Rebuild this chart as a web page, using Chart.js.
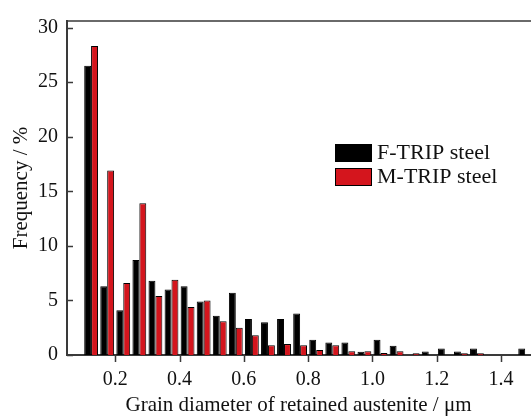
<!DOCTYPE html>
<html>
<head>
<meta charset="utf-8">
<script src="https://cdn.jsdelivr.net/npm/chart.js@4/dist/chart.umd.min.js"></script>
<style>
  html, body { margin: 0; padding: 0; background: #fff; }
  #wrap { width: 531px; height: 418px; position: relative; }
</style>
</head>
<body>
<div id="wrap"><canvas id="myChart"></canvas></div>
<script>
// bin centres (µm), bins are 0.05 wide
let diametres = [0.125, 0.175, 0.225, 0.275, 0.325, 0.375, 0.425, 0.475, 0.525, 0.575,
  0.625, 0.675, 0.725, 0.775, 0.825, 0.875, 0.925, 0.975, 1.025, 1.075,
  1.125, 1.175, 1.225, 1.275, 1.325, 1.375, 1.425, 1.475];
let fTrip = [26.5, 6.3, 4.1, 8.7, 6.8, 6.0, 6.3, 4.9, 3.6, 5.7,
  3.3, 3.0, 3.3, 3.8, 1.4, 1.15, 1.15, 0.3, 1.4, 0.85,
  0, 0.33, 0.6, 0.33, 0.6, 0, 0, 0.6];
let mTrip = [28.3, 16.9, 6.6, 13.9, 5.4, 6.9, 4.4, 5.0, 3.1, 2.5,
  1.8, 0.9, 1.0, 0.9, 0.45, 0.9, 0.35, 0.35, 0.18, 0.35,
  0.15, 0, 0, 0.15, 0.15, 0, 0, 0];
let xTicks = [0.2, 0.4, 0.6, 0.8, 1.0, 1.2, 1.4];
let yTicks = [0, 5, 10, 15, 20, 25, 30];
let noms = ['F-TRIP steel', 'M-TRIP steel'];
let couleurs = ['#000000', '#d4151d'];

const serif = 'Liberation Serif';
const axe = '#3a3a3a';

const points = serie => serie.map((v, i) => ({x: diametres[i], y: v}));

// tick marks (y inward, x outward), top frame line and the legend
const decor = {
  id: 'decor',
  afterDraw(chart) {
    const {ctx, chartArea: a, scales: {x, y}} = chart;
    ctx.save();
    ctx.strokeStyle = axe;
    ctx.lineWidth = 1.5;
    ctx.beginPath();
    ctx.moveTo(a.left, a.top);
    ctx.lineTo(a.right + 2, a.top);
    y.ticks.forEach(t => {
      const py = Math.round(y.getPixelForValue(t.value)) + 0.5;
      ctx.moveTo(a.left, py);
      ctx.lineTo(a.left + 6, py);
    });
    x.ticks.forEach(t => {
      const px = Math.round(x.getPixelForValue(t.value)) + 0.5;
      ctx.moveTo(px, a.bottom);
      ctx.lineTo(px, a.bottom + 7);
    });
    ctx.stroke();

    ctx.font = '22px "' + serif + '"';
    ctx.textBaseline = 'middle';
    ctx.textAlign = 'left';
    chart.data.datasets.forEach((ds, i) => {
      const top = 144 + i * 24;
      ctx.fillStyle = ds.backgroundColor;
      ctx.fillRect(335, top, 37, 18);
      ctx.lineWidth = 1;
      ctx.strokeStyle = '#000';
      ctx.strokeRect(335.5, top + 0.5, 36, 17);
      ctx.fillStyle = '#111';
      ctx.fillText(ds.label, 377, top + 9);
    });
    ctx.restore();
  }
};

const ctx = document.getElementById('myChart');
new Chart(ctx, {
  type: 'bar',
  data: {
    datasets: noms.map((nom, i) => ({
      label: nom,
      data: points(i === 0 ? fTrip : mTrip),
      backgroundColor: couleurs[i],
      borderColor: '#000',
      borderWidth: 1,
      categoryPercentage: 0.86,
      barPercentage: 1.0
    }))
  },
  options: {
    responsive: true,
    maintainAspectRatio: false,
    animation: false,
    layout: {padding: {top: 10, right: 1, left: 0, bottom: 0}},
    plugins: {legend: {display: false}, tooltip: {enabled: false}},
    scales: {
      x: {
        type: 'linear',
        offset: false,
        min: 0.05,
        max: 1.49,
        afterBuildTicks: s => { s.ticks = xTicks.map(v => ({value: v})); },
        afterFit: s => { s.height = 63; },
        grid: {display: false, drawTicks: false},
        border: {display: true, color: axe, width: 2},
        ticks: {
          padding: 13,
          color: '#111',
          font: {family: serif, size: 20},
          maxRotation: 0,
          callback: v => v.toFixed(1)
        },
        title: {
          display: true,
          text: 'Grain diameter of retained austenite / μm',
          color: '#111',
          font: {family: serif, size: 21},
          padding: {top: 0, bottom: 0}
        }
      },
      y: {
        min: 0,
        max: 30.6,
        afterBuildTicks: s => { s.ticks = yTicks.map(v => ({value: v})); },
        afterFit: s => { s.width = 67; },
        grid: {display: false, drawTicks: false},
        border: {display: true, color: axe, width: 2},
        ticks: {
          padding: 9,
          color: '#111',
          font: {family: serif, size: 20}
        },
        title: {
          display: true,
          text: 'Frequency / %',
          color: '#111',
          font: {family: serif, size: 21},
          padding: {top: 9, bottom: 0}
        }
      }
    }
  },
  plugins: [decor]
});
</script>
</body>
</html>
